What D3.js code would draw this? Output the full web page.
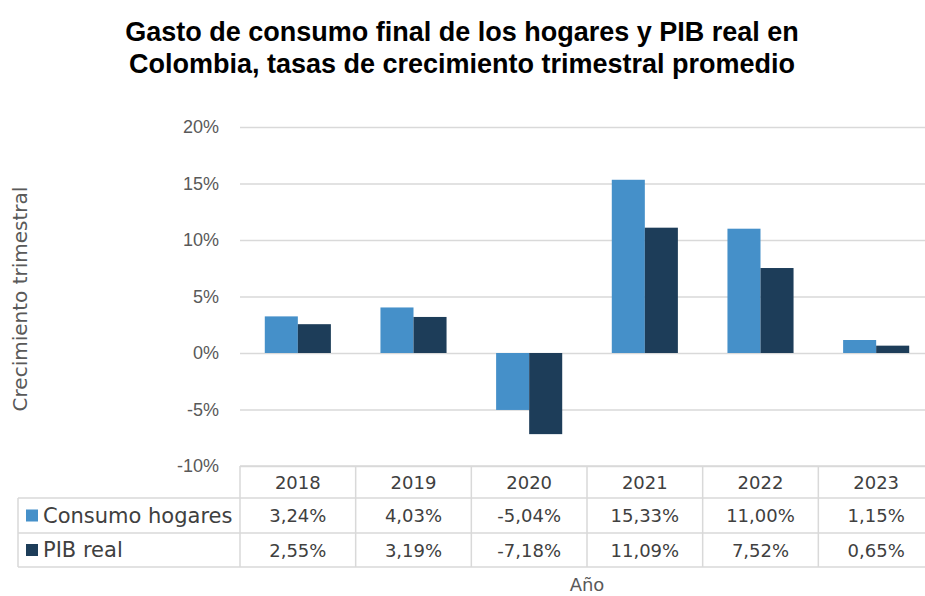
<!DOCTYPE html>
<html>
<head>
<meta charset="utf-8">
<script src="https://cdn.jsdelivr.net/npm/d3@7"></script>
<style>
  body { margin: 0; background: #fff; }
  svg { font-family: "Century Gothic", "DejaVu Sans", sans-serif; }
  .grid line { stroke: #d9d9d9; stroke-width: 1.5; }
  .grid path { display: none; }
  .ticks path, .ticks line { display: none; }
  .ticks text { font-size: 18px; fill: #595959; }
  .cell { font-size: 18px; fill: #404040; }
</style>
</head>
<body>
<svg id="chart" width="925" height="596"></svg>
<script>
// Data
const years = ["2018", "2019", "2020", "2021", "2022", "2023"];
const seriesNames = ["Consumo hogares", "PIB real"];
const consumo = [3.24, 4.03, -5.04, 15.33, 11.00, 1.15];
const pib = [2.55, 3.19, -7.18, 11.09, 7.52, 0.65];
const yTicks = [-10, -5, 0, 5, 10, 15, 20];
const colors = ["#4590c9", "#1d3d59"];

const svg = d3.select("#chart");

const plotLeft = 240, plotRight = 934;
const plotTop = 127, plotBottom = 466;
const rowY = [466, 498, 533, 567]; // table row borders
const legendLeft = 18;

const x = d3.scaleBand().domain(years).range([plotLeft, plotRight]).padding(0);
const x1 = d3.scaleBand().domain(seriesNames).range([0, x.bandwidth()])
  .paddingInner(0).paddingOuter(0.75);
const y = d3.scaleLinear().domain([-10, 20]).range([plotBottom, plotTop]);

const fmt = v => v.toFixed(2).replace(".", ",") + "%";

// Title
["Gasto de consumo final de los hogares y PIB real en",
 "Colombia, tasas de crecimiento trimestral promedio"].forEach((t, i) => {
  svg.append("text")
    .attr("x", 462).attr("y", 41 + i * 32)
    .attr("text-anchor", "middle")
    .style("font-family", "'Liberation Sans', Arial, sans-serif")
    .style("font-weight", "bold").style("font-size", "27px").style("fill", "#000")
    .text(t);
});

// Grid lines
svg.append("g")
  .attr("class", "grid")
  .attr("transform", `translate(${plotLeft},0)`)
  .call(d3.axisLeft(y).tickValues(yTicks).tickSize(-(plotRight - plotLeft)).tickFormat(""));

// Tick labels
svg.append("g")
  .attr("class", "ticks")
  .attr("transform", `translate(${plotLeft - 18},0)`)
  .call(d3.axisLeft(y).tickValues(yTicks).tickSize(0).tickFormat(d => d + "%"));

// Bars
const series = [consumo, pib];
series.forEach((vals, si) => {
  svg.append("g").selectAll("rect")
    .data(years)
    .enter().append("rect")
    .attr("x", (d, i) => x(d) + x1(seriesNames[si]))
    .attr("width", x1.bandwidth())
    .attr("y", (d, i) => y(Math.max(0, vals[i])))
    .attr("height", (d, i) => Math.abs(y(vals[i]) - y(0)))
    .attr("fill", colors[si]);
});

// Data table
const tbl = svg.append("g").attr("stroke", "#d9d9d9").attr("stroke-width", 1.5);
tbl.append("line").attr("x1", plotLeft).attr("x2", plotRight).attr("y1", rowY[0]).attr("y2", rowY[0]);
[rowY[1], rowY[2], rowY[3]].forEach(yy => {
  tbl.append("line").attr("x1", legendLeft).attr("x2", plotRight).attr("y1", yy).attr("y2", yy);
});
years.forEach(yr => {
  tbl.append("line").attr("x1", x(yr)).attr("x2", x(yr)).attr("y1", rowY[0]).attr("y2", rowY[3]);
});
tbl.append("line").attr("x1", plotRight).attr("x2", plotRight).attr("y1", rowY[0]).attr("y2", rowY[3]);
tbl.append("line").attr("x1", legendLeft).attr("x2", legendLeft).attr("y1", rowY[1]).attr("y2", rowY[3]);

// header years
svg.append("g").selectAll("text")
  .data(years).enter().append("text")
  .attr("class", "cell")
  .attr("x", d => x(d) + x.bandwidth() / 2)
  .attr("y", (rowY[0] + rowY[1]) / 2 + 6.5)
  .attr("text-anchor", "middle")
  .text(d => d);

// value rows
series.forEach((vals, si) => {
  const cy = (rowY[si + 1] + rowY[si + 2]) / 2;
  svg.append("g").selectAll("text")
    .data(years).enter().append("text")
    .attr("class", "cell")
    .attr("x", d => x(d) + x.bandwidth() / 2)
    .attr("y", cy + 6.5)
    .attr("text-anchor", "middle")
    .text((d, i) => fmt(vals[i]));
  svg.append("rect")
    .attr("x", 26).attr("y", cy - 6)
    .attr("width", 12).attr("height", 12)
    .attr("fill", colors[si]);
  svg.append("text")
    .attr("class", "cell")
    .attr("x", 43).attr("y", cy + 7)
    .style("font-size", "21px")
    .text(seriesNames[si]);
});

// Axis titles
svg.append("text")
  .attr("transform", "translate(27,299) rotate(-90)")
  .attr("text-anchor", "middle")
  .style("font-size", "20px").style("fill", "#595959")
  .text("Crecimiento trimestral");
svg.append("text")
  .attr("x", 587).attr("y", 591)
  .attr("text-anchor", "middle")
  .style("font-size", "18px").style("fill", "#595959")
  .text("Año");
</script>
</body>
</html>
